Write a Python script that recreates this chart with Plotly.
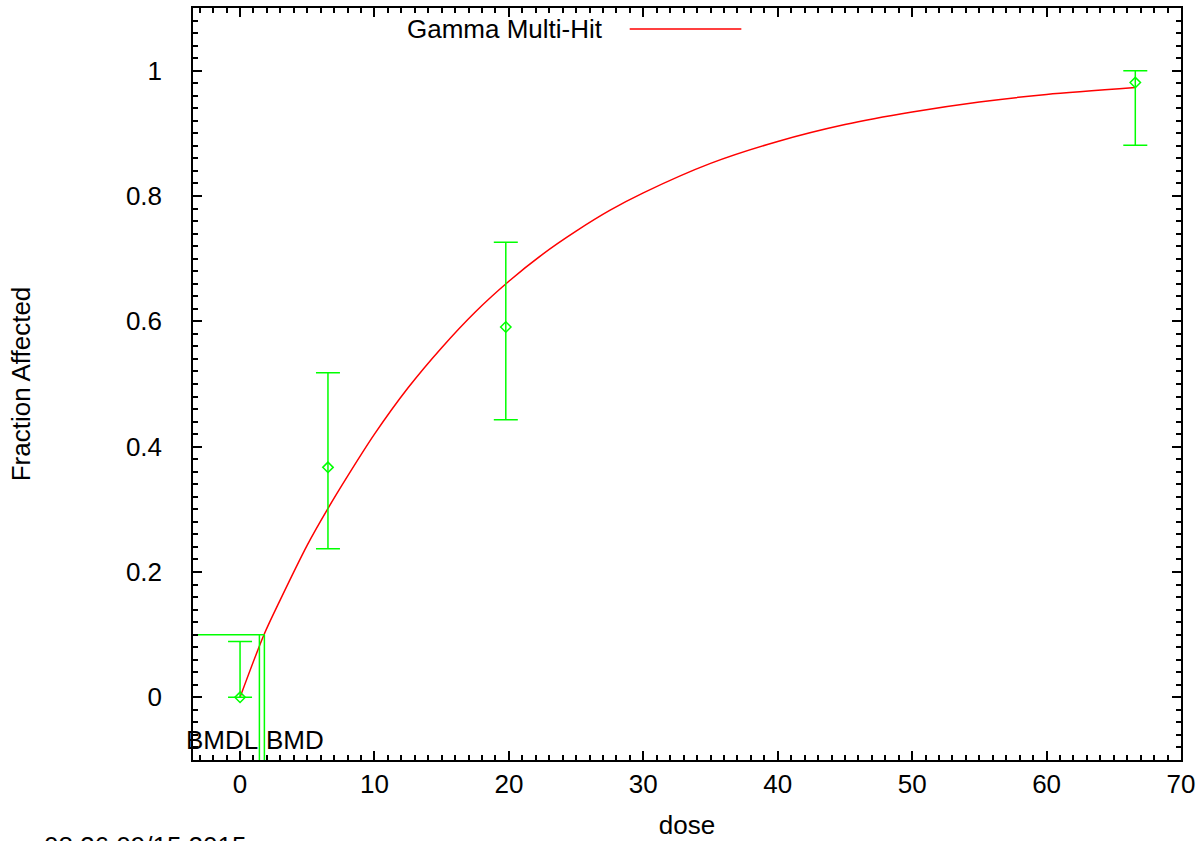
"""
Gamma Multi-Hit dose-response plot (BMDS style)
"""

import plotly.graph_objects as go

# observed data
dose = [0.0, 6.54, 19.77, 66.6]
frac_affected = [0.0, 0.367, 0.591, 0.981]
ci_lower = [0.0, 0.237, 0.443, 0.881]
ci_upper = [0.089, 0.518, 0.726, 1.0]

# fitted model curve
curve_dose = [0, 1.78, 3, 5, 6.5, 8, 10, 12.5, 15, 17.5, 20, 22.5, 25, 27.5,
              30, 35, 40, 45, 50, 55, 60, 66.6]
curve_frac = [0.0, 0.100, 0.156, 0.243, 0.300, 0.353, 0.420, 0.494, 0.558, 0.615,
              0.664, 0.707, 0.744, 0.777, 0.805, 0.852, 0.887, 0.914, 0.934, 0.950,
              0.962, 0.973]

bmr = 0.1
bmd = 1.81
bmdl = 1.44

x_range = [-3.5, 70]
y_range = [-0.1, 1.1]

font = "Liberation Sans, Arial, sans-serif"
fsize = 26
green = "rgb(0,255,0)"
red = "rgb(255,0,0)"


def main():
    fig = go.Figure()

    fig.add_trace(go.Scatter(
        x=curve_dose, y=curve_frac, mode="lines", name="Gamma Multi-Hit",
        line=dict(color=red, width=1.5, shape="spline", smoothing=0.8), showlegend=False))

    err_plus = [u - y for u, y in zip(ci_upper, frac_affected)]
    err_minus = [y - l for l, y in zip(ci_lower, frac_affected)]
    fig.add_trace(go.Scatter(
        x=dose, y=frac_affected, mode="markers", showlegend=False,
        marker=dict(symbol="diamond-open", size=8, color=green, line=dict(width=1.5)),
        error_y=dict(type="data", symmetric=False, array=err_plus, arrayminus=err_minus,
                     color=green, thickness=1.5, width=12)))

    # BMD / BMDL markers
    fig.add_trace(go.Scatter(
        x=[x_range[0], bmd], y=[bmr, bmr], mode="lines", showlegend=False,
        line=dict(color=green, width=1.5)))
    for xv in [bmdl, bmd]:
        fig.add_trace(go.Scatter(
            x=[xv, xv], y=[bmr, y_range[0]], mode="lines", showlegend=False,
            line=dict(color=green, width=1.5)))

    fig.add_annotation(x=bmdl, y=-0.068, text="BMDL", showarrow=False,
                       xanchor="right", yanchor="middle", xshift=1,
                       font=dict(size=fsize, color="black"))
    fig.add_annotation(x=bmd, y=-0.068, text="BMD", showarrow=False,
                       xanchor="left", yanchor="middle", xshift=0,
                       font=dict(size=fsize, color="black"))

    # gnuplot style key: text then sample line
    fig.add_annotation(xref="paper", yref="paper", x=0.4166, y=0.972,
                       text="Gamma Multi-Hit", showarrow=False, xanchor="right",
                       yanchor="middle", font=dict(size=fsize, color="black"))
    fig.add_shape(type="line", xref="paper", yref="paper", x0=0.442, x1=0.555,
                  y0=0.972, y1=0.972, line=dict(color=red, width=1.5))

    # timestamp, clipped at the bottom of the page as in the original
    fig.add_annotation(xref="paper", yref="paper", x=-0.153, y=-0.0915,
                       text="08:36 09/15 2015", showarrow=False, xanchor="left",
                       yanchor="top", font=dict(size=fsize, color="black"))

    axis_style = dict(showline=True, linecolor="black", linewidth=1.5, mirror="allticks",
                      ticks="inside", ticklen=9, tickwidth=1.5, tickcolor="black",
                      showgrid=False, zeroline=False,
                      tickfont=dict(size=fsize, color="black", family=font))

    fig.update_xaxes(range=x_range, dtick=10, tick0=0,
                     minor=dict(dtick=1, ticks="inside", ticklen=5, tickcolor="black"),
                     title=dict(text="dose", font=dict(size=fsize, color="black"), standoff=18),
                     ticklabelstandoff=0, **axis_style)
    fig.update_yaxes(range=y_range, dtick=0.2, tick0=0,
                     minor=dict(dtick=0.02, ticks="inside", ticklen=5, tickcolor="black"),
                     title=dict(text="Fraction Affected", font=dict(size=fsize, color="black"), standoff=88),
                     ticklabelstandoff=24, **axis_style)

    fig.update_layout(width=1201, height=841, plot_bgcolor="white", paper_bgcolor="white",
                      margin=dict(l=193, r=19, t=6, b=81),
                      font=dict(family=font, size=fsize, color="black"))

    # drop the default page margin so the figure sits at the window corner
    fig.write_html("out.html", config={"displayModeBar": False},
                   post_script="document.body.style.margin='0px';")


if __name__ == "__main__":
    main()
